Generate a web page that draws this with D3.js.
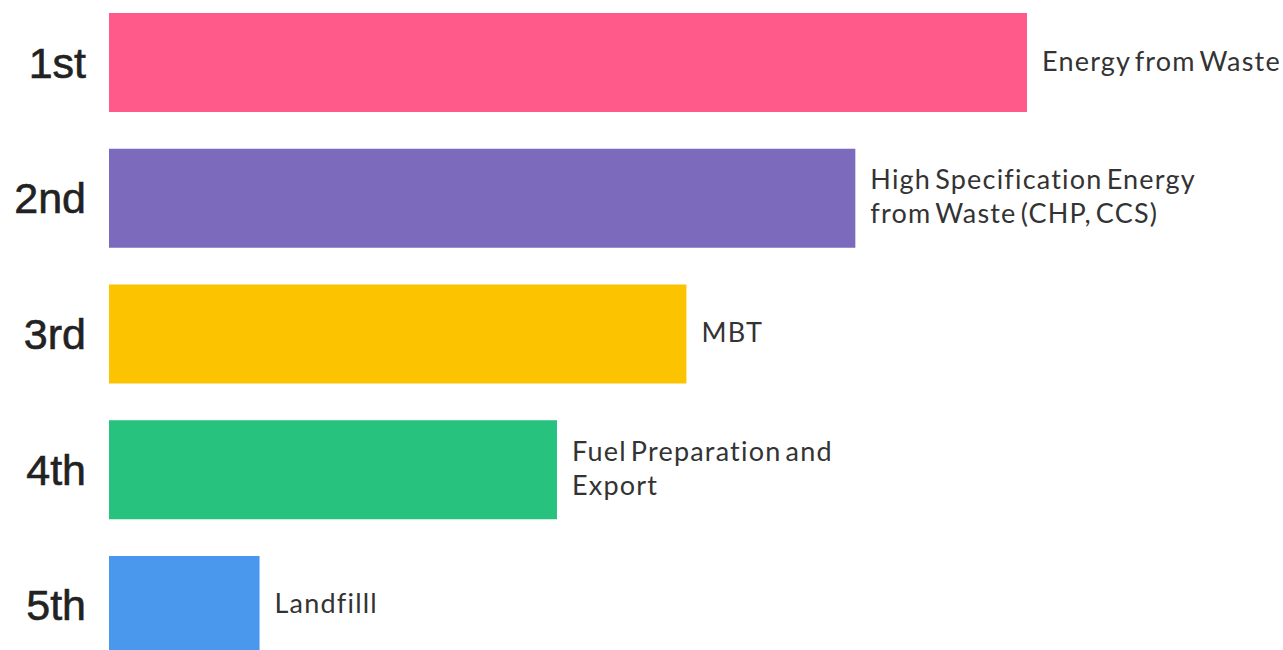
<!DOCTYPE html>
<html>
<head>
<meta charset="utf-8">
<script src="https://cdn.jsdelivr.net/npm/d3@7"></script>
<style>
  html, body { margin: 0; padding: 0; background: #fff; overflow: hidden; }
  svg { display: block; }
</style>
</head>
<body>
<div id="chart"></div>
<script>
// Ranking of residual waste treatment options
const ranks = ["1st", "2nd", "3rd", "4th", "5th"];
const options = [
  ["Energy from Waste"],
  ["High Specification Energy", "from Waste (CHP, CCS)"],
  ["MBT"],
  ["Fuel Preparation and", "Export"],
  ["Landfilll"]
];
const scores = [100, 81.3, 62.9, 48.8, 16.4];
const colors = ["#ff5a89", "#7c6abd", "#fcc400", "#27c27e", "#4a98ee"];

const width = 1283, height = 650;

const svg = d3.select("#chart").append("svg")
  .attr("width", width)
  .attr("height", height);

const x = d3.scaleLinear().domain([0, 100]).range([109, 1027]);
const y = d3.scaleBand().domain(ranks).range([13, 655]).paddingInner(0.2707).paddingOuter(0);

const rows = ranks.map((r, i) => ({ rank: r, label: options[i], value: scores[i], color: colors[i] }));

// bars
svg.selectAll("rect.bar")
  .data(rows)
  .join("rect")
  .attr("class", "bar")
  .attr("x", x(0))
  .attr("y", d => y(d.rank))
  .attr("width", d => x(d.value) - x(0))
  .attr("height", y.bandwidth())
  .attr("fill", d => d.color);

// rank labels on the left
svg.selectAll("text.rank")
  .data(rows)
  .join("text")
  .attr("class", "rank")
  .attr("x", 86)
  .attr("y", d => y(d.rank) + y.bandwidth() / 2 + 15)
  .attr("text-anchor", "end")
  .attr("font-family", "'Liberation Sans', Arial, sans-serif")
  .attr("font-size", 43)
  .attr("fill", "#222")
  .attr("stroke", "#222")
  .attr("stroke-width", 0.6)
  .text(d => d.rank);

// option labels next to each bar end
const lineH = 34;
const lab = svg.selectAll("text.option")
  .data(rows)
  .join("text")
  .attr("class", "option")
  .attr("x", d => x(d.value) + 15)
  .attr("y", d => y(d.rank) + y.bandwidth() / 2 + 8 - (d.label.length - 1) * lineH / 2)
  .attr("font-family", "Lato, 'Open Sans', sans-serif")
  .attr("font-size", 27)
  .attr("letter-spacing", 1.2)
  .attr("word-spacing", -4)
  .attr("fill", "#333");

lab.selectAll("tspan")
  .data(d => d.label.map((t, j) => ({ t, j, x: x(d.value) + 15 })))
  .join("tspan")
  .attr("x", d => d.x)
  .attr("dy", d => d.j === 0 ? 0 : lineH)
  .text(d => d.t);
</script>
</body>
</html>
